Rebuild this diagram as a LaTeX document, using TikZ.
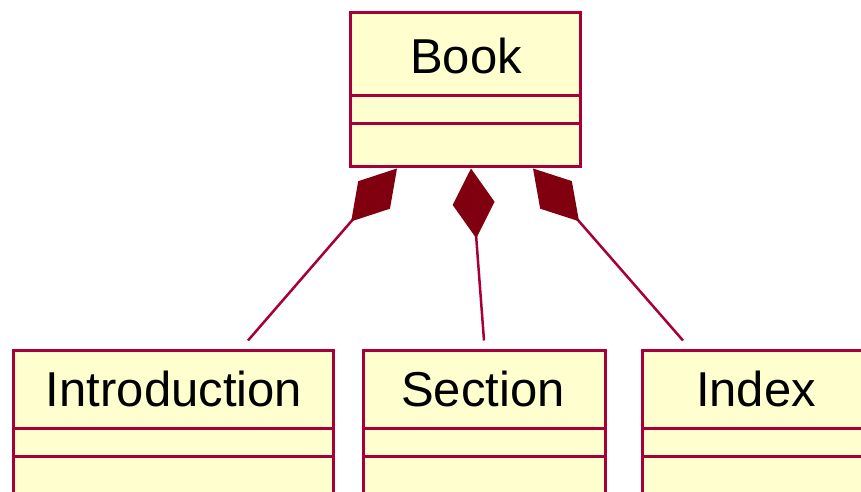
\documentclass[tikz,border=0pt]{standalone}
\usepackage{fontspec}
\setmainfont{Liberation Sans}
\usetikzlibrary{arrows.meta,calc}
\definecolor{umlborder}{HTML}{A80036}
\definecolor{umlfill}{HTML}{FEFECE}
\definecolor{umldiamond}{HTML}{800010}

\begin{document}
\begin{tikzpicture}[x=1pt,y=-1pt,
  classbox/.style={draw=umlborder, fill=umlfill, line width=3pt, rectangle,
    inner sep=0pt, minimum height=153pt},
  classname/.style={font=\fontsize{49}{58}\selectfont, text=black,
    anchor=base, inner sep=0pt},
  divider/.style={draw=umlborder, line width=3pt},
  compose/.style={draw=umlborder, line width=2.5pt,
    -{Diamond[length=70pt,width=42pt,fill=umldiamond,color=umldiamond,line width=1.5pt]}}
]
\useasboundingbox (0,0) rectangle (861,492);
\clip (0,0) rectangle (861,492);

% classes
\node[classbox, minimum width=230pt] (book) at (465,89.5) {};
\node[classbox, minimum width=320pt] (intro) at (173,426.5) {};
\node[classbox, minimum width=242pt] (section) at (484,426.5) {};
\node[classbox, minimum width=228pt] (index) at (756,426.5) {};

% compartment dividers
\foreach \c/\a/\b in {book/84/112, intro/80/108, section/80/108, index/80/108}{
  \draw[divider] ($(\c.north west)+(0,\a)$) -- ($(\c.north east)+(0,\a)$);
  \draw[divider] ($(\c.north west)+(0,\b)$) -- ($(\c.north east)+(0,\b)$);
}

% class names
\node[classname] (bookname) at (466,74) {Book};
\node[classname] (introname) at (174,406) {Introduction};
\node[classname] (sectionname) at (483,406) {Section};
\node[classname] (indexname) at (756,406) {Index};

% connection points
\coordinate (bl) at ($(book.south)+(-68,1)$);
\coordinate (bm) at ($(book.south)+(6,1)$);
\coordinate (br) at ($(book.south)+(68,1)$);
\coordinate (il) at ($(intro.north)+(75,-8)$);
\coordinate (sm) at ($(section.north)+(0,-8)$);
\coordinate (xr) at ($(index.north)+(-73,-8)$);

% compositions
\draw[compose] (il) -- (bl);
\draw[compose] (sm) -- (bm);
\draw[compose] (xr) -- (br);
\end{tikzpicture}
\end{document}
